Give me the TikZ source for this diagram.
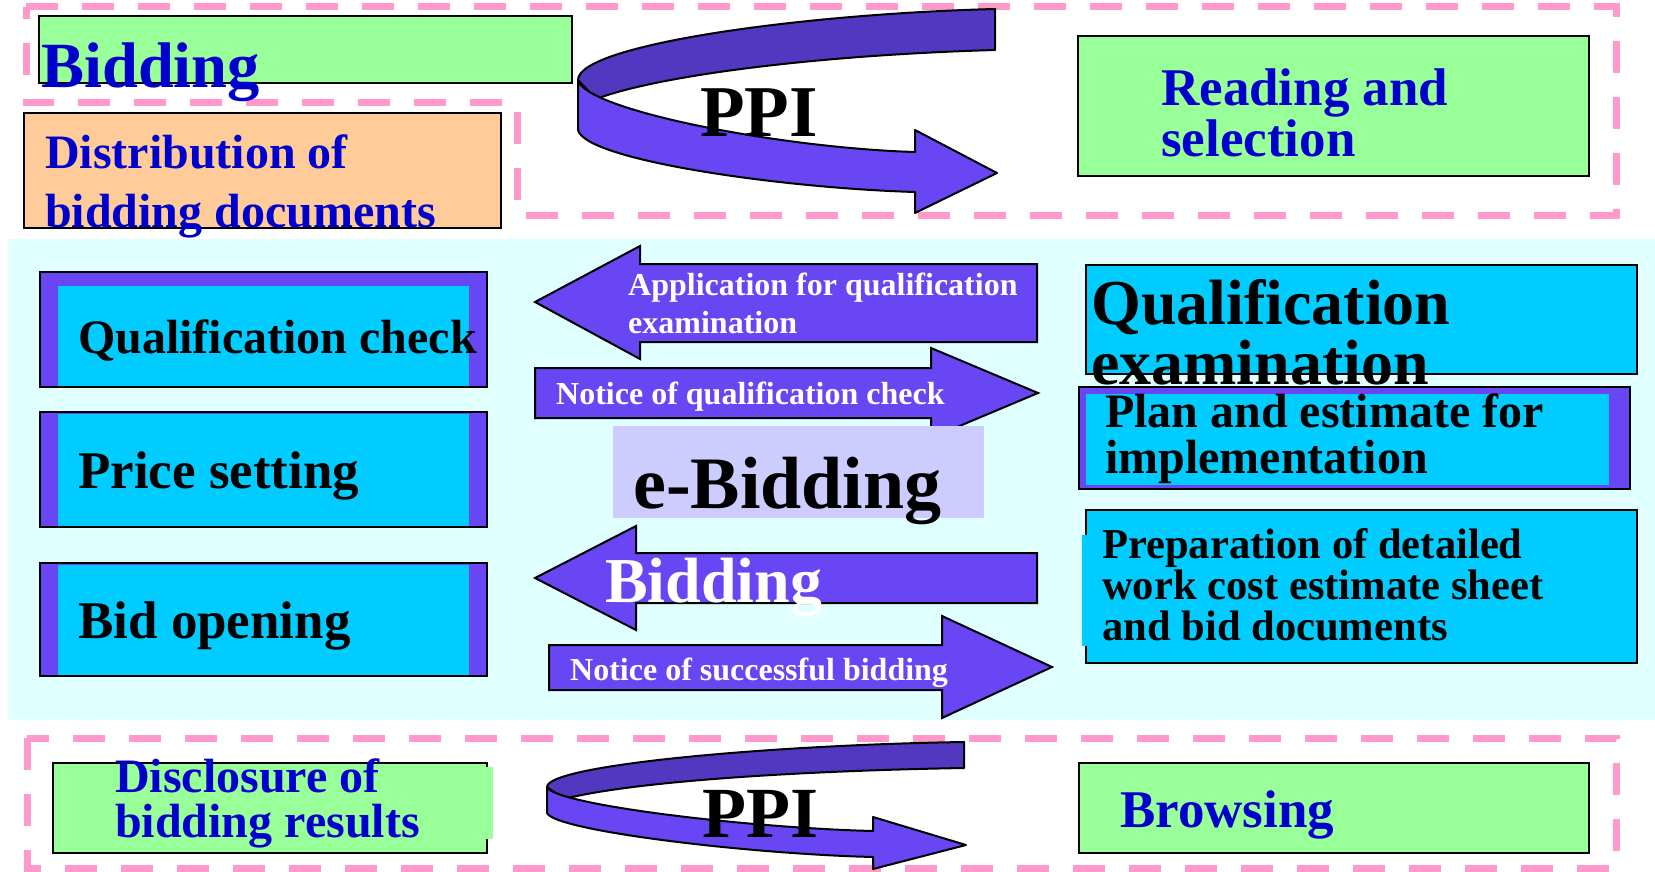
\documentclass[tikz,border=0pt]{standalone}
\usepackage{fontspec}
\setmainfont{Liberation Serif}
\definecolor{pgreen}{HTML}{99FF99}
\definecolor{porange}{HTML}{FFCC99}
\definecolor{pblue}{HTML}{0000CC}
\definecolor{pcyan}{HTML}{00CCFF}
\definecolor{bgcyan}{HTML}{E0FFFF}
\definecolor{ppink}{HTML}{FF99CC}
\definecolor{purp}{RGB}{104,70,244}
\definecolor{pdark}{RGB}{82,56,192}
\definecolor{plav}{HTML}{CCCCFF}
\newcommand{\fsz}[1]{\fontsize{#1}{#1}\selectfont}
\tikzset{
  pinkline/.style={draw=ppink,line width=7pt,dash pattern=on 32pt off 24pt},
  box/.style={draw=black,line width=2pt},
  band/.style={draw=black,line width=2pt,line join=round},
  lbl/.style={anchor=base west,inner sep=0pt,font=\bfseries},
}
\begin{document}
\begin{tikzpicture}[x=1pt,y=-1pt]
\useasboundingbox (0,0) rectangle (1655,872);
\fill[white] (0,0) rectangle (1655,872);
\fill[bgcyan] (8,239) rectangle (1655,720);
\draw[pinkline] (26,7) -- (1616,7) -- (1616,215) -- (517,215) -- (517,103) -- (26,103) -- cycle;
\draw[pinkline] (27,738) rectangle (1616,868);
% top row
\draw[box,fill=pgreen] (39,16) rectangle (572,83);
\node[lbl,text=pblue,font=\bfseries\fsz{64.5}] (bidtop) at (41,88) {Bidding};
\draw[box,fill=porange] (24,113) rectangle (501,228);
\node[lbl,text=pblue,font=\bfseries\fsz{48}] (distA) at (45,168) {Distribution of};
\node[lbl,text=pblue,font=\bfseries\fsz{48}] (distB) at (45,227) {bidding documents};
\filldraw[band,fill=pdark] (995,9) .. controls (800,14) and (578,45) .. (578,80)
  -- (596,99) .. controls (660,75) and (820,55) .. (995,50) -- cycle;
\filldraw[band,fill=purp] (578,80) .. controls (585,110) and (780,148) .. (915,152)
  -- (915,130) -- (997,173) -- (915,213) -- (915,192)
  .. controls (780,188) and (585,160) .. (578,130) -- cycle;
\node[lbl,font=\bfseries\fsz{73}] (ppitop) at (700,137) {PPI};
\draw[box,fill=pgreen] (1078,36) rectangle (1589,176);
\node[lbl,text=pblue,font=\bfseries\fsz{53}] (readA) at (1161,106) {Reading and};
\node[lbl,text=pblue,font=\bfseries\fsz{53}] (readB) at (1161,157) {selection};
% middle left
\foreach \yt/\yb/\yi/\ybase/\sz/\lbltext [count=\n] in {272/387/286/353/48/Qualification check,412/527/414/488/53/Price setting,563/676/565/638/53/Bid opening}{
  \fill[purp] (40,\yt) rectangle (487,\yb);
  \fill[pcyan] (58,\yi) rectangle (469,\yb);
  \draw[box] (40,\yt) rectangle (487,\yb);
  \node[lbl,font=\bfseries\fsz{\sz}] (lft\n) at (78,\ybase) {\lbltext};
}
% middle arrows
\filldraw[box,fill=purp] (1037,264) -- (640,264) -- (640,246) -- (535,302) -- (640,359) -- (640,342) -- (1037,342) -- cycle;
\node[lbl,text=white,font=\bfseries\fsz{32}] (applA) at (628,295) {Application for qualification};
\node[lbl,text=white,font=\bfseries\fsz{32}] (applB) at (628,333) {examination};
\filldraw[box,fill=purp] (535,368) -- (931,368) -- (931,348) -- (1038,393) -- (931,438) -- (931,418) -- (535,418) -- cycle;
\node[lbl,text=white,font=\bfseries\fsz{32}] (notq) at (556,404) {Notice of qualification check};
\fill[plav] (613,426) rectangle (984,518);
\node[lbl,font=\bfseries\fsz{74}] (ebid) at (633,508) {e-Bidding};
\filldraw[box,fill=purp] (1037,553) -- (636,553) -- (636,526) -- (535,578) -- (636,630) -- (636,603) -- (1037,603) -- cycle;
\node[lbl,text=white,font=\bfseries\fsz{64}] (bidmid) at (605,602) {Bidding};
\filldraw[box,fill=purp] (549,645) -- (942,645) -- (942,616) -- (1052,667) -- (942,718) -- (942,690) -- (549,690) -- cycle;
\node[lbl,text=white,font=\bfseries\fsz{32}] (nots) at (570,680) {Notice of successful bidding};
% middle right
\draw[box,fill=pcyan] (1086,265) rectangle (1637,374);
\node[lbl,font=\bfseries\fsz{64}] (qexA) at (1091,324) {Qualification};
\node[lbl,font=\bfseries\fsz{64}] (qexB) at (1091,384) {examination};
\fill[purp] (1079,387) rectangle (1630,489);
\fill[pcyan] (1086,394) rectangle (1609,485);
\draw[box] (1079,387) rectangle (1630,489);
\node[lbl,font=\bfseries\fsz{48}] (planA) at (1105,427) {Plan and estimate for};
\node[lbl,font=\bfseries\fsz{48}] (planB) at (1105,473) {implementation};
\draw[box,fill=pcyan] (1086,510) rectangle (1637,663);
\fill[pcyan] (1082,535) rectangle (1092,646);
\node[lbl,font=\bfseries\fsz{42.6}] (prepA) at (1102,558) {Preparation of detailed};
\node[lbl,font=\bfseries\fsz{42.6}] (prepB) at (1102,599) {work cost estimate sheet};
\node[lbl,font=\bfseries\fsz{42.6}] (prepC) at (1102,640) {and bid documents};
% bottom row
\draw[box,fill=pgreen] (53,763) rectangle (487,853);
\fill[pgreen] (480,767) rectangle (493,839);
\node[lbl,text=pblue,font=\bfseries\fsz{48}] (discA) at (115,792) {Disclosure of};
\node[lbl,text=pblue,font=\bfseries\fsz{48}] (discB) at (115,837) {bidding results};
\filldraw[band,fill=pdark] (964,742) .. controls (770,745) and (547,765) .. (547,787)
  -- (564,799) .. controls (630,782) and (790,771) .. (964,768) -- cycle;
\filldraw[band,fill=purp] (547,787) .. controls (555,805) and (750,828) .. (873,831)
  -- (873,817) -- (966,845) -- (873,869) -- (873,857)
  .. controls (750,854) and (555,831) .. (547,813) -- cycle;
\node[lbl,font=\bfseries\fsz{72}] (ppibot) at (702,837) {PPI};
\draw[box,fill=pgreen] (1079,763) rectangle (1589,853);
\node[lbl,text=pblue,font=\bfseries\fsz{53}] (brows) at (1120,827) {Browsing};
\end{tikzpicture}
\end{document}
